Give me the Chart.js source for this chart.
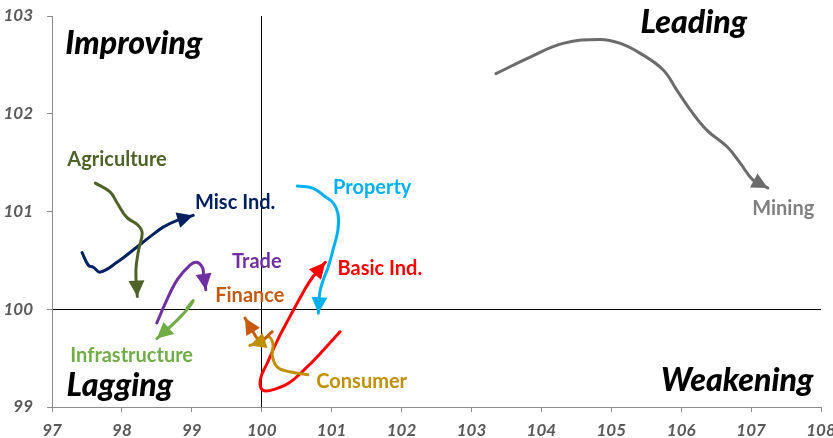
<!DOCTYPE html>
<html>
<head>
<meta charset="utf-8">
<script src="https://cdn.jsdelivr.net/npm/chart.js@4/dist/chart.umd.min.js"></script>
<style>
  html, body { margin: 0; padding: 0; background: #fff; }
  #wrap { width: 833px; height: 438px; }
</style>
</head>
<body>
<div id="wrap"><canvas id="c" width="833" height="438"></canvas></div>
<script>
// tails: [ratio, momentum], last point is the arrow tip
const agriculture = [[97.62,101.29],[97.83,101.20],[97.93,101.09],[98.07,100.94],[98.23,100.86],[98.29,100.78],[98.24,100.61],[98.20,100.40],[98.22,100.13]];
const miscInd = [[97.43,100.58],[97.52,100.45],[97.59,100.43],[97.69,100.38],[97.93,100.48],[98.22,100.64],[98.40,100.74],[98.59,100.84],[98.79,100.91],[99.02,100.96]];
const trade = [[98.50,99.86],[98.62,100.06],[98.79,100.30],[98.97,100.45],[99.07,100.48],[99.15,100.43],[99.17,100.35],[99.20,100.20]];
const infrastructure = [[98.93,100.01],[99.02,100.09],[98.97,100.03],[98.86,99.94],[98.72,99.84],[98.50,99.70]];
const finance = [[100.15,99.77],[99.98,99.68],[99.86,99.79],[99.76,99.91]];
const consumer = [[100.66,99.33],[100.40,99.36],[100.22,99.41],[100.15,99.53],[100.16,99.65],[100.09,99.72],[100.00,99.67],[99.83,99.63]];
const basicInd = [[101.12,99.77],[100.88,99.58],[100.65,99.41],[100.40,99.25],[100.22,99.19],[100.02,99.17],[99.98,99.28],[100.08,99.45],[100.23,99.69],[100.40,99.92],[100.59,100.17],[100.73,100.33],[100.91,100.48]];
const property = [[100.51,101.26],[100.73,101.24],[100.91,101.15],[101.02,101.09],[101.09,100.98],[101.09,100.81],[101.02,100.61],[100.95,100.43],[100.88,100.30],[100.83,100.17],[100.81,99.96]];
const mining = [[103.35,102.41],[103.84,102.58],[104.31,102.72],[104.84,102.76],[105.13,102.72],[105.41,102.62],[105.74,102.45],[105.94,102.24],[106.13,102.04],[106.37,101.83],[106.66,101.66],[106.84,101.50],[107.03,101.32],[107.24,101.24]];

const xTicks = [97, 98, 99, 100, 101, 102, 103, 104, 105, 106, 107, 108];
const yTicks = [99, 100, 101, 102, 103];

const series = [
  { name: "Agriculture", data: agriculture, color: "#4f6228", label: [97.93, 101.53] },
  { name: "Misc Ind.", data: miscInd, color: "#002060", label: [99.62, 101.09] },
  { name: "Trade", data: trade, color: "#7030a0", label: [99.93, 100.49] },
  { name: "Infrastructure", data: infrastructure, color: "#70ad47", label: [98.14, 99.53] },
  { name: "Finance", data: finance, color: "#c55a11", label: [99.83, 100.14] },
  { name: "Consumer", data: consumer, color: "#bf9000", label: [101.43, 99.26] },
  { name: "Basic Ind.", data: basicInd, color: "#ff0000", label: [101.69, 100.42] },
  { name: "Property", data: property, color: "#00b0f0", label: [101.58, 101.24] },
  { name: "Mining", data: mining, color: "#6b6b6b", labelColor: "#7f7f7f", label: [107.46, 101.03] }
];

const quadrants = [
  { text: "Improving", at: [98.17, 102.72] },
  { text: "Leading", at: [106.18, 102.93] },
  { text: "Lagging", at: [97.97, 99.22] },
  { text: "Weakening", at: [106.80, 99.27] }
];

const arrowsAndLabels = {
  id: "arrowsAndLabels",
  afterDatasetsDraw(chart) {
    const ctx = chart.ctx;
    const xs = chart.scales.x, ys = chart.scales.y;
    ctx.save();
    chart.data.datasets.forEach((ds, i) => {
      const pts = chart.getDatasetMeta(i).data;
      const tip = pts[pts.length - 1];
      let bx = tip.cp1x, by = tip.cp1y;
      if (bx === undefined || (Math.abs(bx - tip.x) < 0.5 && Math.abs(by - tip.y) < 0.5)) {
        bx = pts[pts.length - 2].x; by = pts[pts.length - 2].y;
      }
      const a = Math.atan2(tip.y - by, tip.x - bx);
      const len = 16, half = 8;
      ctx.fillStyle = ds.borderColor;
      ctx.beginPath();
      ctx.moveTo(tip.x, tip.y);
      ctx.lineTo(tip.x - len * Math.cos(a) - half * Math.sin(a), tip.y - len * Math.sin(a) + half * Math.cos(a));
      ctx.lineTo(tip.x - len * Math.cos(a) + half * Math.sin(a), tip.y - len * Math.sin(a) - half * Math.cos(a));
      ctx.closePath();
      ctx.fill();
    });
    ctx.textAlign = "center";
    ctx.textBaseline = "middle";
    ctx.font = "bold 20px Lato";
    series.forEach(s => {
      ctx.fillStyle = s.labelColor || s.color;
      ctx.fillText(s.name, xs.getPixelForValue(s.label[0]), ys.getPixelForValue(s.label[1]));
    });
    ctx.font = "italic 900 32px Lato";
    ctx.fillStyle = "#000";
    quadrants.forEach(q => {
      ctx.fillText(q.text, xs.getPixelForValue(q.at[0]), ys.getPixelForValue(q.at[1]));
    });
    ctx.restore();
  }
};

const tickFont = () => ({ family: "Lato", size: 17, weight: "bold", style: "italic" });

new Chart(document.getElementById("c"), {
  type: "scatter",
  data: {
    datasets: series.map(s => ({
      label: s.name,
      data: s.data.map(p => ({ x: p[0], y: p[1] })),
      showLine: true,
      borderColor: s.color,
      backgroundColor: s.color,
      borderWidth: 3,
      tension: 0.4,
      pointRadius: 0,
      borderCapStyle: "round",
      borderJoinStyle: "round"
    }))
  },
  options: {
    responsive: false,
    animation: false,
    layout: { padding: { top: 16, right: 12, left: 0, bottom: 0 } },
    plugins: { legend: { display: false }, tooltip: { enabled: false } },
    scales: {
      x: {
        type: "linear", min: 97, max: 108,
        afterBuildTicks: s => { s.ticks = xTicks.map(v => ({ value: v })); },
        afterFit: s => { s.height = 31; s.paddingLeft = 0; s.paddingRight = 0; },
        border: { color: "#8c8c8c", width: 1 },
        grid: {
          drawOnChartArea: true, tickLength: 5, tickColor: "#8c8c8c",
          color: c => (c.tick && c.tick.value === 100 ? "#000" : "rgba(0,0,0,0)")
        },
        ticks: { color: "#595959", font: tickFont, padding: 8, maxRotation: 0, autoSkip: false }
      },
      y: {
        type: "linear", min: 99, max: 103,
        afterBuildTicks: s => { s.ticks = yTicks.map(v => ({ value: v })); },
        afterFit: s => { s.width = 52; s.paddingTop = 0; s.paddingBottom = 0; },
        border: { color: "#8c8c8c", width: 1 },
        grid: {
          drawOnChartArea: true, tickLength: 5, tickColor: "#8c8c8c",
          color: c => (c.tick && c.tick.value === 100 ? "#000" : "rgba(0,0,0,0)")
        },
        ticks: { color: "#595959", font: tickFont, padding: 14 }
      }
    }
  },
  plugins: [arrowsAndLabels]
});
</script>
</body>
</html>
